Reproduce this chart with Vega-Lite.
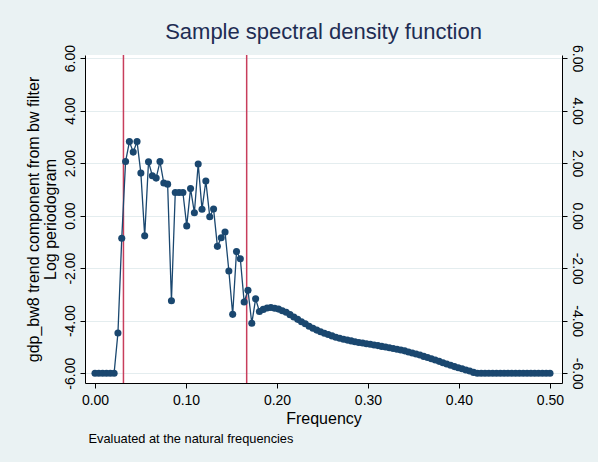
{
  "$schema": "https://vega.github.io/schema/vega-lite/v6.json",
  "width": 477,
  "height": 328,
  "autosize": {"type": "none"},
  "padding": {"left": 85, "top": 55, "right": 36, "bottom": 79},
  "background": "#eaf2f3",
  "view": {"fill": "white", "stroke": null},
  "title": {"text": "Sample spectral density function", "frame": "group", "anchor": "middle", "fontSize": 22, "font": "Liberation Sans", "fontWeight": "normal", "color": "#1e2d53", "offset": 0},
  "config": {
    "font": "Liberation Sans",
    "axis": {"domainColor": "black", "tickColor": "black", "labelColor": "black", "titleColor": "black", "tickSize": 5, "gridColor": "#e4edef", "labelFontSize": 14, "titleFontSize": 16, "titleFontWeight": "normal", "labelFont": "Liberation Sans", "titleFont": "Liberation Sans", "labelFlush": false, "labelOverlap": false}
  },
  "datasets": {
    "pg": [
      {"f": 0.0000, "p": -6}, {"f": 0.0042, "p": -6}, {"f": 0.0084, "p": -6}, {"f": 0.0126, "p": -6},
      {"f": 0.0168, "p": -6}, {"f": 0.0210, "p": -6}, {"f": 0.0252, "p": -4.47}, {"f": 0.0294, "p": -0.86},
      {"f": 0.0336, "p": 2.06}, {"f": 0.0378, "p": 2.82}, {"f": 0.0420, "p": 2.42}, {"f": 0.0462, "p": 2.82},
      {"f": 0.0504, "p": 1.62}, {"f": 0.0546, "p": -0.77}, {"f": 0.0588, "p": 2.05}, {"f": 0.0630, "p": 1.52},
      {"f": 0.0672, "p": 1.43}, {"f": 0.0714, "p": 2.06}, {"f": 0.0756, "p": 1.24}, {"f": 0.0798, "p": 1.2},
      {"f": 0.0840, "p": -3.24}, {"f": 0.0882, "p": 0.88}, {"f": 0.0924, "p": 0.88}, {"f": 0.0966, "p": 0.88},
      {"f": 0.1008, "p": -0.39}, {"f": 0.1050, "p": 1.03}, {"f": 0.1092, "p": 0.11}, {"f": 0.1134, "p": 1.97},
      {"f": 0.1176, "p": 0.24}, {"f": 0.1218, "p": 1.32}, {"f": 0.1261, "p": -0.04}, {"f": 0.1303, "p": 0.25},
      {"f": 0.1345, "p": -1.17}, {"f": 0.1387, "p": -0.84}, {"f": 0.1429, "p": -0.62}, {"f": 0.1471, "p": -2.11},
      {"f": 0.1513, "p": -3.76}, {"f": 0.1555, "p": -1.37}, {"f": 0.1597, "p": -1.64}, {"f": 0.1639, "p": -3.29},
      {"f": 0.1681, "p": -2.84}, {"f": 0.1723, "p": -4.10}, {"f": 0.1765, "p": -3.17}, {"f": 0.1807, "p": -3.65},
      {"f": 0.1849, "p": -3.57}, {"f": 0.1891, "p": -3.52}, {"f": 0.1933, "p": -3.50}, {"f": 0.1975, "p": -3.53},
      {"f": 0.2017, "p": -3.56}, {"f": 0.2059, "p": -3.62}, {"f": 0.2101, "p": -3.68}, {"f": 0.2143, "p": -3.77},
      {"f": 0.2185, "p": -3.86}, {"f": 0.2227, "p": -3.95}, {"f": 0.2269, "p": -4.04}, {"f": 0.2311, "p": -4.12},
      {"f": 0.2353, "p": -4.21}, {"f": 0.2395, "p": -4.29}, {"f": 0.2437, "p": -4.36}, {"f": 0.2479, "p": -4.42},
      {"f": 0.2521, "p": -4.48}, {"f": 0.2563, "p": -4.53}, {"f": 0.2605, "p": -4.58}, {"f": 0.2647, "p": -4.63},
      {"f": 0.2689, "p": -4.67}, {"f": 0.2731, "p": -4.71}, {"f": 0.2773, "p": -4.74}, {"f": 0.2815, "p": -4.77},
      {"f": 0.2857, "p": -4.80}, {"f": 0.2899, "p": -4.83}, {"f": 0.2941, "p": -4.85}, {"f": 0.2983, "p": -4.88},
      {"f": 0.3025, "p": -4.90}, {"f": 0.3067, "p": -4.93}, {"f": 0.3109, "p": -4.95}, {"f": 0.3151, "p": -4.98},
      {"f": 0.3193, "p": -5.00}, {"f": 0.3235, "p": -5.03}, {"f": 0.3277, "p": -5.06}, {"f": 0.3319, "p": -5.09},
      {"f": 0.3361, "p": -5.12}, {"f": 0.3403, "p": -5.15}, {"f": 0.3445, "p": -5.19}, {"f": 0.3487, "p": -5.23},
      {"f": 0.3529, "p": -5.27}, {"f": 0.3571, "p": -5.31}, {"f": 0.3613, "p": -5.36}, {"f": 0.3655, "p": -5.40},
      {"f": 0.3697, "p": -5.45}, {"f": 0.3739, "p": -5.50}, {"f": 0.3782, "p": -5.55}, {"f": 0.3824, "p": -5.60},
      {"f": 0.3866, "p": -5.65}, {"f": 0.3908, "p": -5.70}, {"f": 0.3950, "p": -5.75}, {"f": 0.3992, "p": -5.79},
      {"f": 0.4034, "p": -5.83}, {"f": 0.4076, "p": -5.88}, {"f": 0.4118, "p": -5.92}, {"f": 0.4160, "p": -5.97},
      {"f": 0.4202, "p": -6}, {"f": 0.4244, "p": -6}, {"f": 0.4286, "p": -6}, {"f": 0.4328, "p": -6},
      {"f": 0.4370, "p": -6}, {"f": 0.4412, "p": -6}, {"f": 0.4454, "p": -6}, {"f": 0.4496, "p": -6},
      {"f": 0.4538, "p": -6}, {"f": 0.4580, "p": -6}, {"f": 0.4622, "p": -6}, {"f": 0.4664, "p": -6},
      {"f": 0.4706, "p": -6}, {"f": 0.4748, "p": -6}, {"f": 0.4790, "p": -6}, {"f": 0.4832, "p": -6},
      {"f": 0.4874, "p": -6}, {"f": 0.4916, "p": -6}, {"f": 0.4958, "p": -6}, {"f": 0.5000, "p": -6}
    ],
    "xlines": [{"f": 0.03125}, {"f": 0.16667}]
  },
  "resolve": {"axis": {"x": "independent", "y": "independent"}},
  "layer": [
    {
      "data": {"name": "xlines"},
      "mark": {"type": "rule", "color": "#c83e5c", "strokeWidth": 1.5},
      "encoding": {
        "x": {"field": "f", "type": "quantitative", "axis": null, "scale": {"domain": [-0.011, 0.5132], "nice": false, "zero": false}}
      }
    },
    {
      "data": {"name": "pg"},
      "mark": {"type": "line", "color": "#1a476f", "strokeWidth": 1.3, "point": {"filled": true, "size": 50, "color": "#1a476f", "opacity": 1}},
      "encoding": {
        "x": {"field": "f", "type": "quantitative", "scale": {"domain": [-0.011, 0.5132], "nice": false, "zero": false},
          "axis": {"orient": "bottom", "values": [0, 0.1, 0.2, 0.3, 0.4, 0.5], "format": ".2f", "grid": false, "title": "Frequency", "labelPadding": 5, "titlePadding": 3, "labelFlush": false}},
        "y": {"field": "p", "type": "quantitative", "scale": {"domain": [-6.374, 6.118], "nice": false, "zero": false},
          "axis": {"orient": "left", "values": [-6, -4, -2, 0, 2, 4, 6], "labelExpr": "datum.value < 0 ? '-' + format(-datum.value, '.2f') : format(datum.value, '.2f')", "labelAngle": -90, "labelAlign": "center", "labelBaseline": "bottom", "labelFlush": false, "grid": true, "title": ["gdp_bw8 trend component from bw filter", "Log periodogram"], "titleLineHeight": 17, "titlePadding": 5, "labelPadding": 3}}
      }
    },
    {
      "data": {"name": "pg"},
      "mark": {"type": "point", "opacity": 0},
      "encoding": {
        "x": {"field": "f", "type": "quantitative", "scale": {"domain": [-0.011, 0.5132], "nice": false, "zero": false},
          "axis": {"orient": "bottom", "labels": false, "ticks": false, "domain": false, "grid": false, "title": "Evaluated at the natural frequencies", "titleFontSize": 12.8, "titleAnchor": "start", "titleAlign": "left", "titleX": 3, "titlePadding": 49}},
        "y": {"field": "p", "type": "quantitative", "scale": {"domain": [-6.374, 6.118], "nice": false, "zero": false},
          "axis": {"orient": "right", "values": [-6, -4, -2, 0, 2, 4, 6], "labelExpr": "datum.value < 0 ? '-' + format(-datum.value, '.2f') : format(datum.value, '.2f')", "labelAngle": 90, "labelAlign": "center", "labelBaseline": "bottom", "labelFlush": false, "grid": false, "title": null, "labelPadding": 2}}
      }
    }
  ]
}
